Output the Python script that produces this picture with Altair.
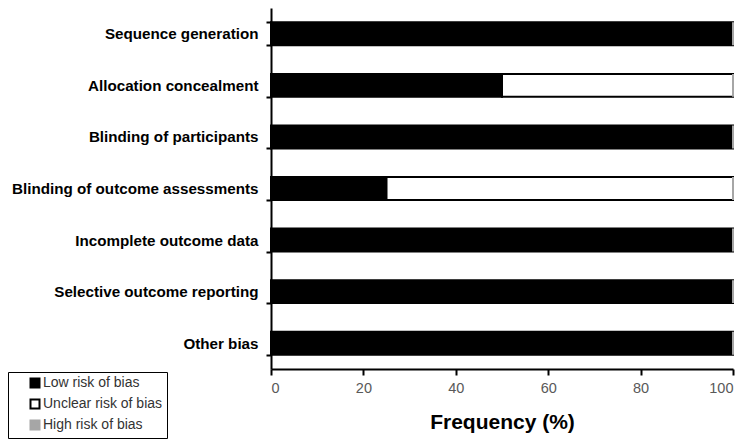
import altair as alt
import pandas as pd

domains = ["Sequence generation", "Allocation concealment", "Blinding of participants",
           "Blinding of outcome assessments", "Incomplete outcome data",
           "Selective outcome reporting", "Other bias"]
low = [100, 50, 100, 25, 100, 100, 100]
unclear = [0, 50, 0, 75, 0, 0, 0]
high = [0, 0, 0, 0, 0, 0, 0]
categories = ["Low risk of bias", "Unclear risk of bias", "High risk of bias"]
x_ticks = [0, 20, 40, 60, 80, 100]

rows = []
for i, d in enumerate(domains):
    for k, (cat, vals) in enumerate(zip(categories, [low, unclear, high])):
        rows.append({"domain": d, "risk": cat, "value": vals[i], "ord": k})
df = pd.DataFrame(rows)

legend_kw = dict(title=None, orient="none", legendX=-263, legendY=364,
                 strokeColor="black", padding=4, symbolType="square",
                 symbolSize=81, symbolStrokeWidth=2, symbolOffset=16,
                 labelFont="Liberation Sans", labelFontSize=14,
                 labelColor="#333333", rowPadding=3, labelOffset=1)

chart = alt.Chart(df).mark_bar(strokeWidth=2).encode(
    y=alt.Y("domain:N", sort=domains, title=None,
            scale=alt.Scale(paddingInner=0.556, paddingOuter=0.278),
            axis=alt.Axis(tickBand="extent", labelFont="Liberation Sans", labelFontWeight="bold",
                          labelFontSize=15.2, labelColor="black", labelPadding=8,
                          domainColor="black", domainWidth=2, tickColor="black",
                          tickWidth=2, tickSize=5, labelLimit=400)),
    x=alt.X("value:Q", stack="zero", title="Frequency (%)",
            scale=alt.Scale(domain=[0, 100], nice=False),
            axis=alt.Axis(values=x_ticks, grid=False, labelFont="Liberation Sans",
                          labelFontSize=14.5, labelColor="#595959", labelPadding=6,
                          domainColor="black", domainWidth=2, tickColor="black",
                          tickWidth=2, tickSize=6, titleFont="Liberation Sans",
                          titleFontSize=21, titleFontWeight="bold", titleColor="black",
                          titlePadding=17)),
    fill=alt.Fill("risk:N", scale=alt.Scale(domain=categories,
                                            range=["black", "white", "#a6a6a6"]),
                  legend=alt.Legend(**legend_kw)),
    stroke=alt.Stroke("risk:N", scale=alt.Scale(domain=categories,
                                                range=["black", "black", "#a6a6a6"]),
                      legend=alt.Legend(**legend_kw)),
    order=alt.Order("ord:Q"),
).properties(
    width=462, height=361,
    autosize=alt.AutoSizeParams(type="none"),
    padding={"left": 263, "top": 0, "right": 8, "bottom": 70},
).configure_view(stroke=None)

chart.save("out.html", embed_options={"renderer": "svg", "actions": False})
